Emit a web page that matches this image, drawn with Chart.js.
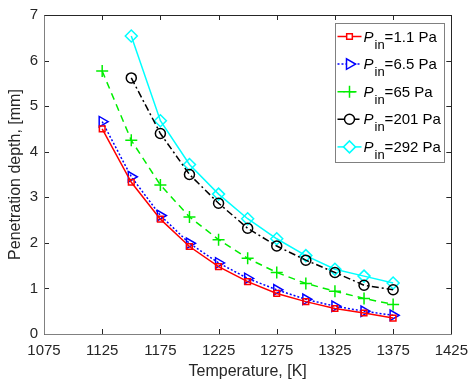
<!DOCTYPE html>
<html>
<head>
<meta charset="utf-8">
<script src="https://cdn.jsdelivr.net/npm/chart.js@4"></script>
<style>
  html, body { margin: 0; padding: 0; background: #fff; }
  #wrap { width: 476px; height: 381px; }
</style>
</head>
<body>
<div id="wrap"><canvas id="chart"></canvas></div>
<script>
// temperatures, K
const temps = [1125, 1150, 1175, 1200, 1225, 1250, 1275, 1300, 1325, 1350, 1375];
// penetration depth, mm (null = no measurement)
const p1_1 = [4.50, 3.33, 2.52, 1.92, 1.48, 1.15, 0.89, 0.71, 0.56, 0.46, 0.35];
const p6_5 = [4.66, 3.45, 2.60, 1.99, 1.56, 1.22, 0.97, 0.76, 0.61, 0.50, 0.41];
const p65 = [5.77, 4.25, 3.27, 2.57, 2.07, 1.66, 1.35, 1.11, 0.94, 0.78, 0.65];
const p201 = [null, 5.62, 4.40, 3.50, 2.87, 2.32, 1.93, 1.62, 1.35, 1.07, 0.97];
const p292 = [null, 6.54, 4.68, 3.72, 3.07, 2.53, 2.09, 1.72, 1.42, 1.27, 1.12];
const legendText = ['=1.1 Pa', '=6.5 Pa', '=65 Pa', '=201 Pa', '=292 Pa'];
const xTicks = [1075, 1125, 1175, 1225, 1275, 1325, 1375, 1425];
const yTicks = [0, 1, 2, 3, 4, 5, 6, 7];

const FONT = "'Liberation Sans', Arial, sans-serif";
const toPts = (arr) => temps.map((t, i) => ({ x: t, y: arr[i] })).filter(p => p.y !== null);

const series = [
  { data: p1_1, color: '#ff0000', dash: [], style: 'rect', rot: 0, r: 4 },
  { data: p6_5, color: '#0000ff', dash: [2, 2], style: 'triangle', rot: 90, r: 6 },
  { data: p65, color: '#00ee00', dash: [7, 5], style: 'cross', rot: 0, r: 6 },
  { data: p201, color: '#000000', dash: [7, 3, 2, 3], style: 'circle', rot: 0, r: 5 },
  { data: p292, color: '#00ffff', dash: [], style: 'rectRot', rot: 0, r: 6 }
];

// frame with inward ticks, MATLAB style
const framePlugin = {
  id: 'frame',
  afterDatasetsDraw(chart) {
    const { ctx, chartArea: a, scales } = chart;
    ctx.save();
    ctx.lineWidth = 1;
    ctx.strokeStyle = '#262626';
    ctx.beginPath();
    xTicks.forEach(v => {
      const x = Math.round(scales.x.getPixelForValue(v)) + 0.5;
      ctx.moveTo(x, a.bottom); ctx.lineTo(x, a.bottom - 5);
      ctx.moveTo(x, a.top); ctx.lineTo(x, a.top + 5);
    });
    yTicks.forEach(v => {
      const y = Math.round(scales.y.getPixelForValue(v)) + 0.5;
      ctx.moveTo(a.left, y); ctx.lineTo(a.left + 5, y);
      ctx.moveTo(a.right, y); ctx.lineTo(a.right - 5, y);
    });
    ctx.stroke();
    ctx.beginPath();
    ctx.moveTo(Math.round(a.left) + 0.5, Math.round(a.top) + 0.5);
    ctx.lineTo(Math.round(a.right) + 0.5, Math.round(a.top) + 0.5);
    ctx.lineTo(Math.round(a.right) + 0.5, Math.round(a.bottom) + 0.5);
    ctx.stroke();
    ctx.strokeStyle = '#808080';
    ctx.beginPath();
    ctx.moveTo(Math.round(a.left) + 0.5, Math.round(a.top) + 0.5);
    ctx.lineTo(Math.round(a.left) + 0.5, Math.round(a.bottom) + 0.5);
    ctx.lineTo(Math.round(a.right) + 0.5, Math.round(a.bottom) + 0.5);
    ctx.stroke();
    ctx.restore();
  }
};

// legend box with subscripted labels
const legendPlugin = {
  id: 'subLegend',
  afterDraw(chart) {
    const { ctx } = chart;
    const bx = 335.5, by = 23.5, bw = 109, bh = 139, rowH = 27.6;
    ctx.save();
    ctx.fillStyle = '#fff';
    ctx.fillRect(bx, by, bw, bh);
    ctx.strokeStyle = '#808080';
    ctx.lineWidth = 1;
    ctx.strokeRect(bx, by, bw, bh);
    series.forEach((s, i) => {
      const cy = by + 13 + i * rowH;
      ctx.strokeStyle = s.color;
      ctx.lineWidth = 1.5;
      ctx.setLineDash(s.dash);
      ctx.beginPath();
      ctx.moveTo(bx + 2, cy); ctx.lineTo(bx + 26, cy);
      ctx.stroke();
      ctx.setLineDash([]);
      ctx.fillStyle = '#fff';
      Chart.helpers.drawPoint(ctx, {
        pointStyle: s.style, radius: s.r, rotation: s.rot, borderWidth: 1.5
      }, bx + 14, cy);
      ctx.fillStyle = '#000';
      ctx.textBaseline = 'alphabetic';
      ctx.font = 'italic 15px ' + FONT;
      ctx.fillText('P', bx + 28, cy + 5);
      const pw = ctx.measureText('P').width;
      ctx.font = '13px ' + FONT;
      ctx.fillText('in', bx + 28 + pw + 1, cy + 12);
      const iw = ctx.measureText('in').width;
      ctx.font = '15px ' + FONT;
      ctx.fillText(legendText[i], bx + 28 + pw + 1 + iw, cy + 5);
    });
    ctx.restore();
  }
};

new Chart(document.getElementById('chart'), {
  type: 'line',
  data: {
    datasets: series.map((s, i) => ({
      label: legendText[i],
      data: toPts(s.data),
      borderColor: s.color,
      backgroundColor: 'rgba(0,0,0,0)',
      borderWidth: 1.5,
      borderDash: s.dash,
      pointStyle: s.style,
      pointRotation: s.rot,
      pointRadius: s.r,
      pointBorderWidth: 1.5,
      pointBorderColor: s.color,
      pointBackgroundColor: 'rgba(0,0,0,0)',
      tension: 0,
      fill: false
    }))
  },
  options: {
    responsive: true,
    maintainAspectRatio: false,
    animation: false,
    layout: { padding: { top: 15, right: 17, left: 0, bottom: 0 } },
    plugins: { legend: { display: false }, tooltip: { enabled: false } },
    scales: {
      x: {
        type: 'linear',
        min: 1075, max: 1425,
        afterBuildTicks: (sc) => { sc.ticks = xTicks.map(v => ({ value: v })); },
        afterFit: (sc) => { sc.height = 47; },
        grid: { display: false, drawTicks: false },
        border: { display: false },
        ticks: { color: '#262626', font: { family: FONT, size: 15 }, padding: 8, maxRotation: 0, callback: (v) => String(v) },
        title: { display: true, text: 'Temperature, [K]', color: '#262626', font: { family: FONT, size: 16 }, padding: { top: 5, bottom: 0 } }
      },
      y: {
        min: 0, max: 7,
        afterBuildTicks: (sc) => { sc.ticks = yTicks.map(v => ({ value: v })); },
        afterFit: (sc) => { sc.width = 44; },
        grid: { display: false, drawTicks: false },
        border: { display: false },
        ticks: { color: '#262626', font: { family: FONT, size: 15 }, padding: 6, callback: (v) => String(v) },
        title: { display: true, text: 'Penetration depth, [mm]', color: '#262626', font: { family: FONT, size: 16 }, padding: { top: 6, bottom: 0 } }
      }
    }
  },
  plugins: [framePlugin, legendPlugin]
});
</script>
</body>
</html>
